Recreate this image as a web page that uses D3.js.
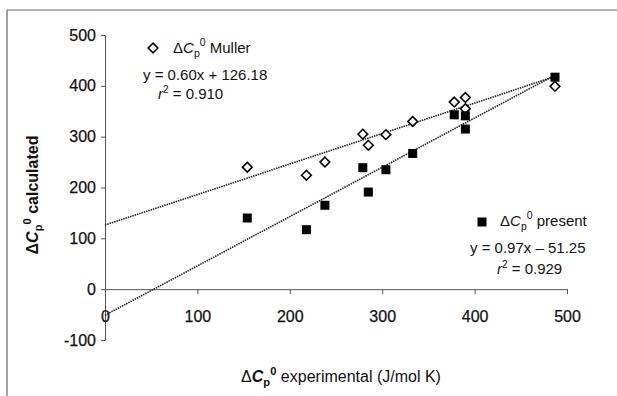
<!DOCTYPE html>
<html>
<head>
<meta charset="utf-8">
<script src="https://cdn.jsdelivr.net/npm/d3@7"></script>
<style>
  body { margin: 0; background: #fff; }
  text { font-family: "Liberation Sans", Arial, sans-serif; fill: #111; }
</style>
</head>
<body>
<script>
// experimental values (shared x) and the two calculated series
var expX     = [154, 218, 238, 279, 285, 304, 333, 378, 390, 390, 487];
var mullerY  = [240, 224, 250, 305, 283, 304, 330, 368, 377, 355, 399];
var presentY = [140, 117, 165, 239, 191, 235, 267, 343, 341, 315, 417];
var xTicks = [0, 100, 200, 300, 400, 500];
var yTicks = [-100, 0, 100, 200, 300, 400, 500];
// fitted lines: slope, intercept
var mullerFit  = [0.60, 126.18];
var presentFit = [0.97, -51.25];

var width = 617, height = 396;

var svg = d3.select("body").append("svg")
    .attr("width", width)
    .attr("height", height);

// scan frame (top and left edges only visible)
svg.append("line").attr("x1", 7).attr("x2", 617).attr("y1", 10).attr("y2", 10)
    .attr("stroke", "#666").attr("stroke-width", 1.2);
svg.append("line").attr("x1", 7).attr("x2", 7).attr("y1", 10).attr("y2", 396)
    .attr("stroke", "#666").attr("stroke-width", 1.2);

var x = d3.scaleLinear().domain([0, 500]).range([105, 567]);
var y = d3.scaleLinear().domain([-100, 500]).range([340, 35]);

// axes (plain hyphen for negatives, like the original)
var fmt = function (d) { return String(d); };
var yAxis = d3.axisLeft(y).tickValues(yTicks).tickFormat(fmt).tickSize(4).tickSizeOuter(0).tickPadding(5);
var gy = svg.append("g").attr("transform", "translate(" + x(0) + ",0)").call(yAxis);

var xAxis = d3.axisBottom(x).tickValues(xTicks).tickFormat(fmt).tickSize(5).tickSizeOuter(0).tickPadding(16);
var gx = svg.append("g").attr("transform", "translate(0," + y(0) + ")").call(xAxis);

[gx, gy].forEach(function (g) {
    g.selectAll("path, line").attr("stroke", "#555");
    g.selectAll("text").attr("font-size", 16).attr("font-family", "Liberation Sans, Arial, sans-serif")
        .attr("fill", "#111").attr("stroke", "#111").attr("stroke-width", 0.25);
});
gx.selectAll(".tick").filter(function (d) { return d == 0; }).select("line").remove();

// trend lines
function fitLine(fit) {
    return [[0, fit[1]], [d3.max(expX), fit[0] * d3.max(expX) + fit[1]]];
}
var line = d3.line().x(function (d) { return x(d[0]); }).y(function (d) { return y(d[1]); });
[mullerFit, presentFit].forEach(function (f) {
    svg.append("path")
        .attr("d", line(fitLine(f)))
        .attr("fill", "none")
        .attr("stroke", "#222")
        .attr("stroke-width", 1.6)
        .attr("stroke-dasharray", "1.5,0.9");
});

// markers
var diamond = d3.symbol().type(d3.symbolDiamond2).size(60);
function drawDiamond(cx, cy) {
    svg.append("path").attr("d", diamond())
        .attr("transform", "translate(" + cx + "," + cy + ")")
        .attr("fill", "#fff").attr("stroke", "#000").attr("stroke-width", 1.6);
}
function drawSquare(cx, cy) {
    svg.append("rect").attr("x", cx - 4.5).attr("y", cy - 4.5)
        .attr("width", 9).attr("height", 9).attr("fill", "#000");
}
expX.forEach(function (v, i) { drawDiamond(x(v), y(mullerY[i])); });
expX.forEach(function (v, i) { drawSquare(x(v), y(presentY[i])); });

// ΔCp0 label helper
function cpLabel(t, size, bold, rest) {
    t.append("tspan").text("\u0394");
    t.append("tspan").text("C").attr("font-style", "italic").attr("font-weight", bold ? "bold" : "normal");
    t.append("tspan").text("p").attr("font-size", size * 0.7).attr("dy", size * 0.25).attr("font-weight", bold ? "bold" : "normal");
    t.append("tspan").text("0").attr("font-size", size * 0.7).attr("dy", -size * 0.7).attr("font-weight", bold ? "bold" : "normal");
    t.append("tspan").text(rest).attr("dy", size * 0.45);
}

// legend: Muller
drawDiamond(153, 48);
cpLabel(svg.append("text").attr("x", 173).attr("y", 53).attr("font-size", 15), 15, false, " Muller");
svg.append("text").attr("x", 143).attr("y", 80).attr("font-size", 15).text("y = 0.60x + 126.18");
var r1 = svg.append("text").attr("x", 158).attr("y", 99).attr("font-size", 15);
r1.append("tspan").text("r").attr("font-style", "italic");
r1.append("tspan").text("2").attr("font-size", 10).attr("dy", -6);
r1.append("tspan").text(" = 0.910").attr("dy", 6);

// legend: present
drawSquare(482, 222);
cpLabel(svg.append("text").attr("x", 500).attr("y", 226).attr("font-size", 15), 15, false, " present");
svg.append("text").attr("x", 470).attr("y", 253).attr("font-size", 15).text("y = 0.97x \u2013 51.25");
var r2 = svg.append("text").attr("x", 497).attr("y", 274).attr("font-size", 15);
r2.append("tspan").text("r").attr("font-style", "italic");
r2.append("tspan").text("2").attr("font-size", 10).attr("dy", -6);
r2.append("tspan").text(" = 0.929").attr("dy", 6);

// axis titles
var xt = svg.append("text").attr("x", 341).attr("y", 382).attr("font-size", 16).attr("text-anchor", "middle");
cpLabel(xt, 16, true, " experimental (J/mol K)");

var yt = svg.append("text").attr("transform", "translate(38,195) rotate(-90)")
    .attr("font-size", 16).attr("font-weight", "bold").attr("text-anchor", "middle");
cpLabel(yt, 16, true, " calculated");
</script>
</body>
</html>
